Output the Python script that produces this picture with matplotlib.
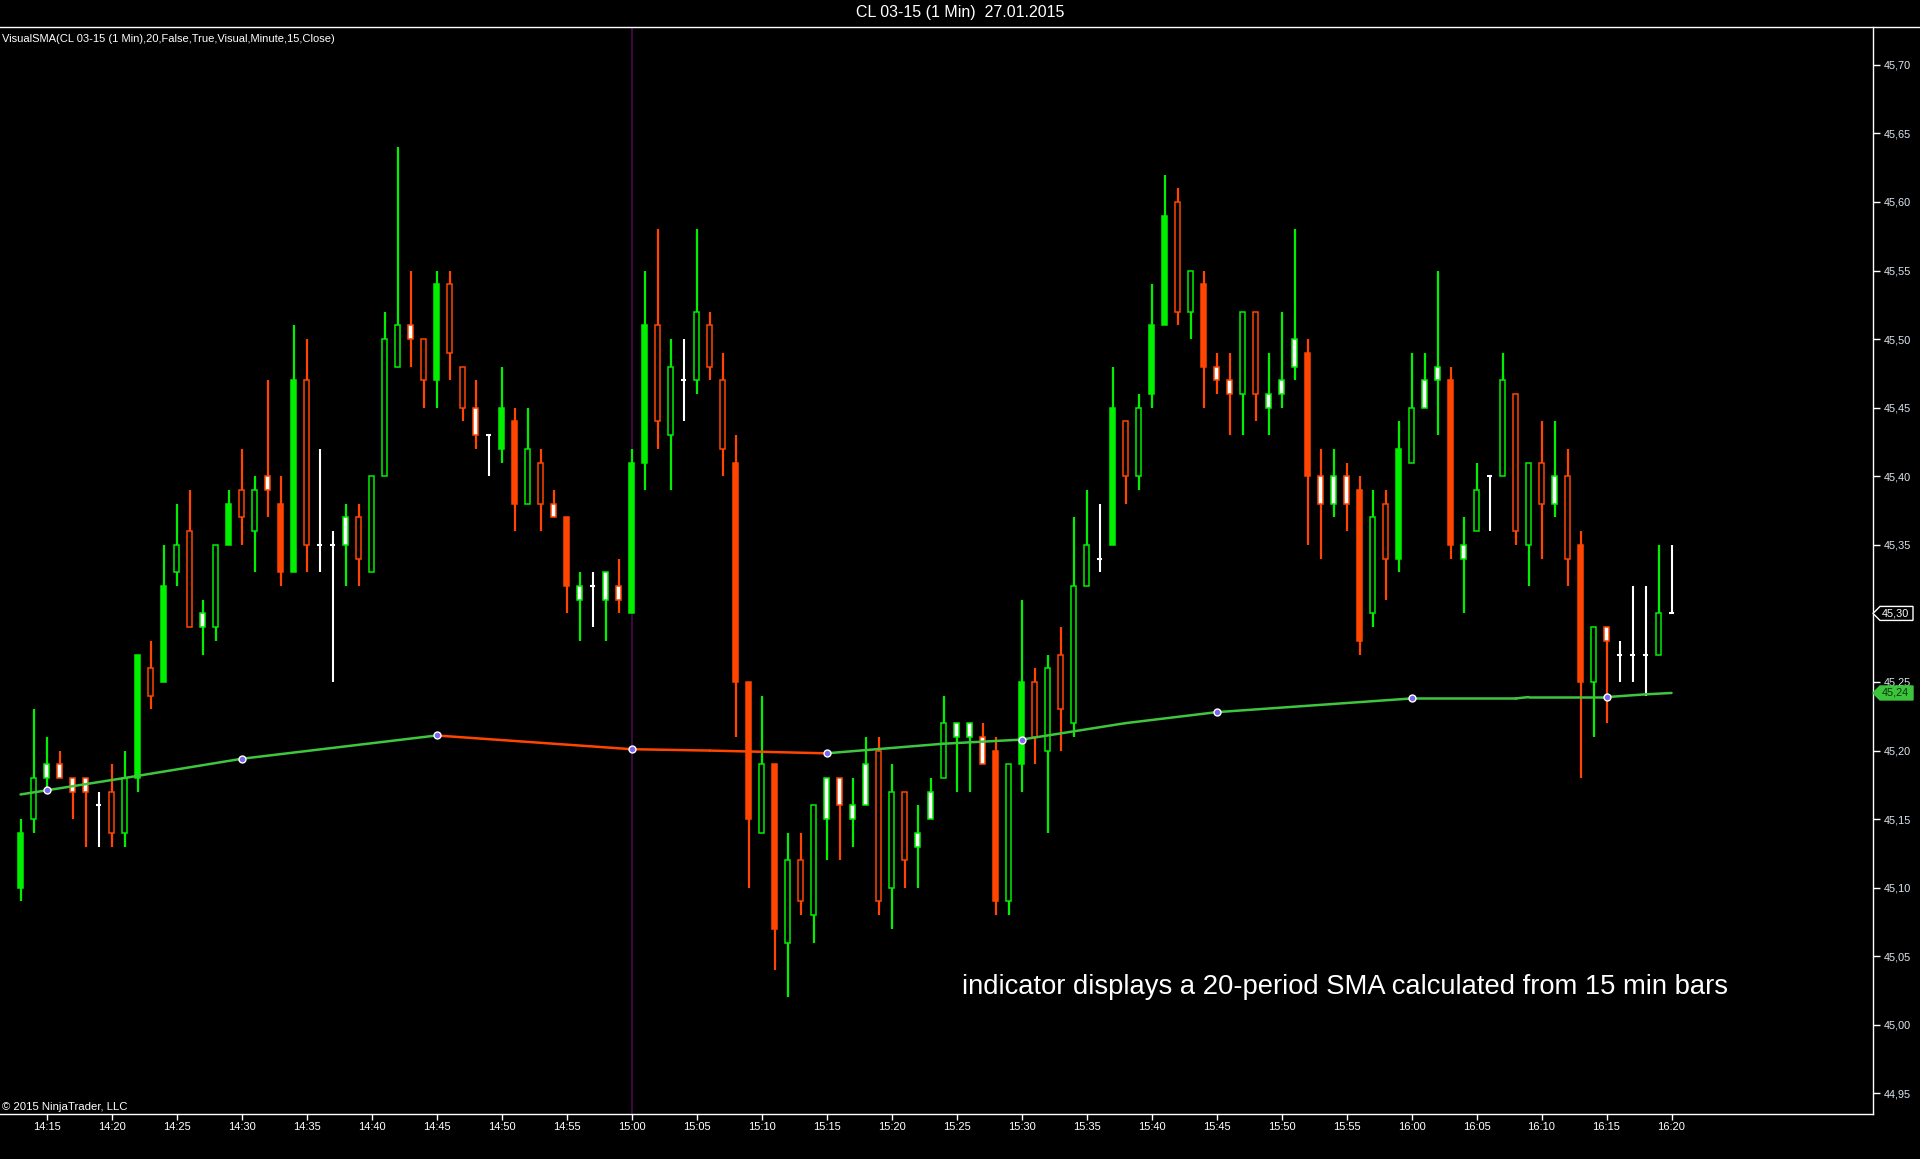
"""
1-minute CL 03-15 candles with a 20-period SMA taken from 15 minute bars,
drawn in the look of a NinjaTrader chart window.
"""

import matplotlib
matplotlib.use("Agg")
import matplotlib.pyplot as plt
from matplotlib.patches import Rectangle, Polygon
from matplotlib.lines import Line2D
import matplotlib.transforms as mtransforms
import numpy as np
import pandas as pd

# --- Data ---

START = "2015-01-27 14:13"

opens = [45.10, 45.15, 45.18, 45.19, 45.18, 45.18, 45.16, 45.17, 45.14, 45.18,
         45.26, 45.25, 45.33, 45.36, 45.29, 45.29, 45.35, 45.39, 45.36, 45.40,
         45.38, 45.33, 45.47, 45.35, 45.35, 45.35, 45.37, 45.33, 45.40, 45.48,
         45.51, 45.50, 45.47, 45.54, 45.48, 45.45, 45.43, 45.42, 45.44, 45.38,
         45.41, 45.38, 45.37, 45.31, 45.32, 45.31, 45.32, 45.30, 45.41, 45.51,
         45.43, 45.47, 45.47, 45.51, 45.47, 45.41, 45.25, 45.14, 45.19, 45.06,
         45.12, 45.08, 45.15, 45.18, 45.15, 45.16, 45.20, 45.10, 45.17, 45.13,
         45.15, 45.18, 45.21, 45.21, 45.21, 45.20, 45.09, 45.19, 45.25, 45.20,
         45.27, 45.22, 45.32, 45.34, 45.35, 45.44, 45.40, 45.46, 45.51, 45.60,
         45.52, 45.54, 45.48, 45.47, 45.46, 45.52, 45.45, 45.46, 45.48, 45.49,
         45.40, 45.38, 45.40, 45.39, 45.30, 45.38, 45.34, 45.41, 45.45, 45.47,
         45.47, 45.34, 45.36, 45.40, 45.40, 45.46, 45.35, 45.41, 45.38, 45.40,
         45.35, 45.25, 45.29, 45.27, 45.27, 45.27, 45.27, 45.30]
highs = [45.15, 45.23, 45.21, 45.20, 45.18, 45.18, 45.17, 45.19, 45.20, 45.27,
         45.28, 45.35, 45.38, 45.39, 45.31, 45.35, 45.39, 45.42, 45.40, 45.47,
         45.40, 45.51, 45.50, 45.42, 45.36, 45.38, 45.38, 45.40, 45.52, 45.64,
         45.55, 45.50, 45.55, 45.55, 45.48, 45.47, 45.43, 45.48, 45.45, 45.45,
         45.42, 45.39, 45.37, 45.33, 45.33, 45.33, 45.34, 45.42, 45.55, 45.58,
         45.50, 45.50, 45.58, 45.52, 45.49, 45.43, 45.25, 45.24, 45.19, 45.14,
         45.14, 45.16, 45.18, 45.18, 45.18, 45.21, 45.21, 45.19, 45.17, 45.16,
         45.18, 45.24, 45.22, 45.22, 45.22, 45.21, 45.19, 45.31, 45.26, 45.27,
         45.29, 45.37, 45.39, 45.38, 45.48, 45.44, 45.46, 45.54, 45.62, 45.61,
         45.55, 45.55, 45.49, 45.49, 45.52, 45.52, 45.49, 45.52, 45.58, 45.50,
         45.42, 45.42, 45.41, 45.40, 45.39, 45.39, 45.44, 45.49, 45.49, 45.55,
         45.48, 45.37, 45.41, 45.40, 45.49, 45.46, 45.41, 45.44, 45.44, 45.42,
         45.36, 45.29, 45.29, 45.28, 45.32, 45.32, 45.35, 45.35]
lows = [45.09, 45.14, 45.17, 45.18, 45.15, 45.13, 45.13, 45.13, 45.13, 45.17,
        45.23, 45.25, 45.32, 45.29, 45.27, 45.28, 45.35, 45.35, 45.33, 45.37,
        45.32, 45.33, 45.33, 45.33, 45.25, 45.32, 45.32, 45.33, 45.40, 45.48,
        45.48, 45.45, 45.45, 45.47, 45.44, 45.42, 45.40, 45.41, 45.36, 45.38,
        45.36, 45.37, 45.30, 45.28, 45.29, 45.28, 45.30, 45.30, 45.39, 45.42,
        45.39, 45.44, 45.46, 45.47, 45.40, 45.21, 45.10, 45.14, 45.04, 45.02,
        45.08, 45.06, 45.12, 45.12, 45.13, 45.16, 45.08, 45.07, 45.10, 45.10,
        45.15, 45.18, 45.17, 45.17, 45.19, 45.08, 45.08, 45.17, 45.19, 45.14,
        45.20, 45.21, 45.32, 45.33, 45.35, 45.38, 45.39, 45.45, 45.51, 45.51,
        45.50, 45.45, 45.46, 45.43, 45.43, 45.44, 45.43, 45.45, 45.47, 45.35,
        45.34, 45.37, 45.36, 45.27, 45.29, 45.31, 45.33, 45.41, 45.45, 45.43,
        45.34, 45.30, 45.36, 45.36, 45.40, 45.35, 45.32, 45.34, 45.37, 45.32,
        45.18, 45.21, 45.22, 45.25, 45.25, 45.24, 45.27, 45.30]
closes = [45.14, 45.18, 45.19, 45.18, 45.17, 45.17, 45.16, 45.14, 45.18, 45.27,
          45.24, 45.32, 45.35, 45.29, 45.30, 45.35, 45.38, 45.37, 45.39, 45.39,
          45.33, 45.47, 45.35, 45.35, 45.35, 45.37, 45.34, 45.40, 45.50, 45.51,
          45.50, 45.47, 45.54, 45.49, 45.45, 45.43, 45.43, 45.45, 45.38, 45.42,
          45.38, 45.37, 45.32, 45.32, 45.32, 45.33, 45.31, 45.41, 45.51, 45.44,
          45.48, 45.47, 45.52, 45.48, 45.42, 45.25, 45.15, 45.19, 45.07, 45.12,
          45.09, 45.16, 45.18, 45.16, 45.16, 45.19, 45.09, 45.17, 45.12, 45.14,
          45.17, 45.22, 45.22, 45.22, 45.19, 45.09, 45.19, 45.25, 45.21, 45.26,
          45.23, 45.32, 45.35, 45.34, 45.45, 45.40, 45.45, 45.51, 45.59, 45.52,
          45.55, 45.48, 45.47, 45.46, 45.52, 45.46, 45.46, 45.47, 45.50, 45.40,
          45.38, 45.40, 45.38, 45.28, 45.37, 45.34, 45.42, 45.45, 45.47, 45.48,
          45.35, 45.35, 45.39, 45.40, 45.47, 45.36, 45.41, 45.38, 45.40, 45.34,
          45.25, 45.29, 45.28, 45.27, 45.27, 45.27, 45.30, 45.30]
# body look per bar: S solid, H hollow, W white, D doji
bar_kinds = ("SHWWWWDHHSHSHHWHSHHW"
             "SSHDDWHHHHWHSHHWDSSH"
             "HWSWDWWSSHHDHHHSSHSH"
             "HHWWWWHHHWWHWWWSHSHH"
             "HHHDSHHSSHHSWWHHWWWS"
             "WWWSHHSHWWSWHDHHHHWH"
             "SHWDDDHD")

# SMA(20) of the 15 min bars, read at the bar index where it was measured
sma_idx = [0, 2, 8, 17, 32, 47, 53, 62, 71, 77, 85, 92, 107, 115, 116, 122, 125, 127]
sma_vals = [45.168, 45.171, 45.180, 45.194, 45.211, 45.201, 45.200, 45.198, 45.205,
            45.208, 45.220, 45.228, 45.238, 45.238, 45.239, 45.239, 45.241, 45.242]
sma_dots = [2, 17, 32, 47, 62, 77, 92, 107, 122]

NOTE = "indicator displays a 20-period SMA calculated from 15 min bars"

# --- Style ---

GREEN = "#00f000"
ORANGE = "#ff4500"
SMA_GREEN = "#3fc63f"
BODY_W = 0.4

plt.rcParams["font.family"] = ["Liberation Sans", "DejaVu Sans"]

W, H = 1920, 1159
fig = plt.figure(figsize=(W / 100, H / 100), dpi=100, facecolor="black")
ax = fig.add_axes([0, 1 - 1114 / H, 1873 / W, (1114 - 27) / H], facecolor="black")

times = pd.date_range(START, periods=len(closes), freq="min")
xs = np.arange(len(closes))

# --- Candles ---
for i in xs:
    o, h, l, c, kd = opens[i], highs[i], lows[i], closes[i], bar_kinds[i]
    if kd == "D" or o == c:
        ax.vlines(i, l, h, color="white", lw=1.5, zorder=2)
        ax.hlines(c, i - BODY_W / 2, i + BODY_W / 2, color="white", lw=1.5, zorder=2)
        continue
    col = GREEN if c > o else ORANGE
    ax.vlines(i, l, h, color=col, lw=1.6, zorder=2)
    face = {"S": col, "H": "black", "W": "white"}[kd]
    ax.add_patch(Rectangle((i - BODY_W / 2, min(o, c)), BODY_W, abs(c - o),
                           facecolor=face, edgecolor=col, lw=1.1, zorder=3))

# session marker at 15:00
k15 = int(np.where(times.strftime("%H:%M") == "15:00")[0][0])
ax.axvline(k15, color="#4a0c4a", lw=1.2, zorder=1)

# --- SMA line, orange where it falls ---
for a, b, va, vb in zip(sma_idx[:-1], sma_idx[1:], sma_vals[:-1], sma_vals[1:]):
    ax.plot([a, b], [va, vb], color=ORANGE if vb < va else SMA_GREEN,
            lw=1.8, solid_capstyle="round", zorder=5)
dot_y = [sma_vals[sma_idx.index(d)] for d in sma_dots]
ax.plot(sma_dots, dot_y, "o", ms=5, mfc="#7b68ee", mec="white", mew=1.0, zorder=6)

# --- Axes ---
ax.set_xlim(-1.58, 142.5)
ax.set_ylim(44.935, 45.7276)

yt = np.round(np.arange(44.95, 45.701, 0.05), 2)
ax.yaxis.tick_right()
ax.set_yticks(yt)
ax.set_yticklabels([f"{v:.2f}".replace(".", ",") for v in yt])

xt = [i for i in xs if times[i].minute % 5 == 0]
ax.set_xticks(xt)
ax.set_xticklabels([times[i].strftime("%H:%M") for i in xt])

ax.tick_params(axis="y", colors="white", labelcolor="#dfe8f2", direction="out",
               length=5, width=1, labelsize=7.8, pad=3)
ax.tick_params(axis="x", colors="white", labelcolor="white", direction="out",
               length=4, width=1, labelsize=8, pad=2)
for side in ("left", "top"):
    ax.spines[side].set_visible(False)
for side in ("right", "bottom"):
    ax.spines[side].set_color("white")
    ax.spines[side].set_linewidth(1.0)

# title bar separator
fig.add_artist(Line2D([0, 1], [1 - 27 / H, 1 - 27 / H], color="white", lw=1.0))

# --- Price tags on the axis ---
px_x = 1 / 1873
px_y = (45.7276 - 44.935) / 1087
trans = mtransforms.blended_transform_factory(ax.transAxes, ax.transData)


def price_tag(y, text, face, edge, tcol):
    pts = [(1, y), (1 + 7 * px_x, y + 7 * px_y), (1 + 40 * px_x, y + 7 * px_y),
           (1 + 40 * px_x, y - 7 * px_y), (1 + 7 * px_x, y - 7 * px_y)]
    ax.add_patch(Polygon(pts, closed=True, facecolor=face, edgecolor=edge, lw=1.0,
                         transform=trans, clip_on=False, zorder=10))
    ax.text(1 + 9 * px_x, y, text, transform=trans, color=tcol, fontsize=7.8,
            va="center", ha="left", clip_on=False, zorder=11)


price_tag(closes[-1], f"{closes[-1]:.2f}".replace(".", ","), "black", "white", "white")
price_tag(sma_vals[-1], f"{sma_vals[-1]:.2f}".replace(".", ","), "#3cc43c", "#3cc43c", "#083808")

# --- Texts ---
fig.text(960 / W, 1 - 13 / H, "CL 03-15 (1 Min)  27.01.2015", ha="center", va="center",
         color="white", fontsize=11.5)
fig.text(2 / W, 1 - 39 / H, "VisualSMA(CL 03-15 (1 Min),20,False,True,Visual,Minute,15,Close)",
         ha="left", va="center", color="white", fontsize=8)
fig.text(2 / W, 1 - 1107 / H, "© 2015 NinjaTrader, LLC", ha="left", va="center",
         color="white", fontsize=8.2)
fig.text(962 / W, 1 - 987 / H, NOTE, ha="left", va="center", color="white", fontsize=19.7)

fig.savefig("out.png", dpi=100, facecolor="black")
